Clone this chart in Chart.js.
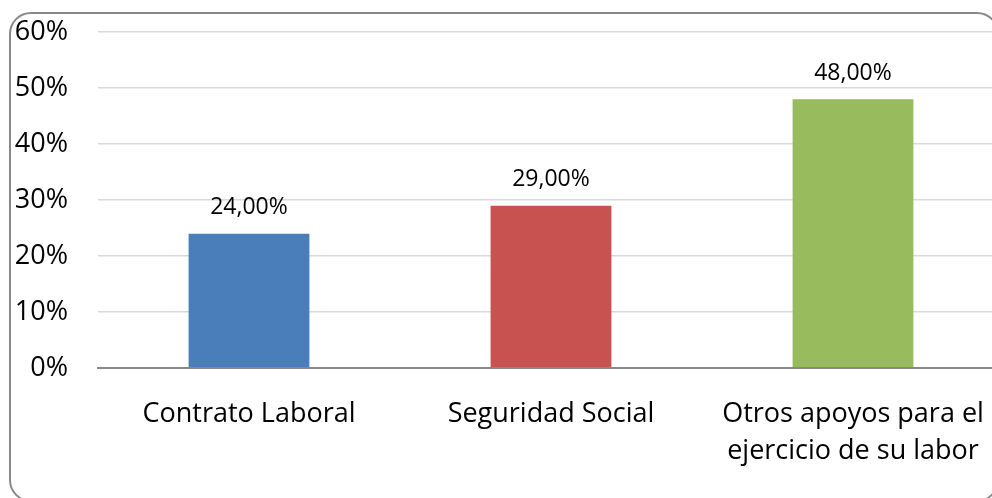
<!DOCTYPE html>
<html>
<head>
<meta charset="utf-8">
<script src="https://cdn.jsdelivr.net/npm/chart.js@4"></script>
<style>
  html, body { margin: 0; padding: 0; background: #fff; overflow: hidden; }
  #wrap { position: relative; width: 992px; height: 498px; overflow: hidden; }
  #frame {
    position: absolute; left: 9px; top: 12px; width: 986px; height: 486px;
    border: 2px solid #888; border-radius: 22px; pointer-events: none;
  }
  canvas { position: absolute; left: 0; top: -14px; }
</style>
</head>
<body>
<div id="wrap">
  <canvas id="chart" width="1004" height="512"></canvas>
  <div id="frame"></div>
</div>
<script>
const categories = ['Contrato Laboral', 'Seguridad Social', ['Otros apoyos para el', 'ejercicio de su labor']];
const values = [24, 29, 48];
const barColors = ['#4a7ebb', '#c8524f', '#98bb5e'];
const yTicks = [0, 10, 20, 30, 40, 50, 60];

const fontFamily = "'Open Sans', 'Noto Sans', sans-serif";

// Draw the value above each bar (no datalabels plugin available)
const valueLabels = {
    id: 'valueLabels',
    afterDatasetsDraw(chart) {
        const ctx = chart.ctx;
        const meta = chart.getDatasetMeta(0);
        ctx.save();
        ctx.font = '23px ' + fontFamily;
        ctx.fillStyle = '#000';
        ctx.textAlign = 'center';
        ctx.textBaseline = 'middle';
        meta.data.forEach((bar, i) => {
            const txt = values[i].toFixed(2).replace('.', ',') + '%';
            ctx.fillText(txt, bar.x, bar.y - 26);
        });
        ctx.restore();
    }
};

new Chart(document.getElementById('chart').getContext('2d'), {
    type: 'bar',
    data: {
        labels: categories,
        datasets: [{
            data: values,
            backgroundColor: barColors,
            borderWidth: 0,
            barPercentage: 1,
            categoryPercentage: 0.4
        }]
    },
    options: {
        responsive: false,
        animation: false,
        layout: { padding: { top: 18, right: 0, left: 0, bottom: 0 } },
        plugins: {
            legend: { display: false },
            tooltip: { enabled: false }
        },
        scales: {
            x: {
                grid: { display: false },
                border: { color: '#888', width: 2 },
                ticks: {
                    color: '#000',
                    font: { family: fontFamily, size: 27, lineHeight: 1.4 },
                    padding: 19,
                    maxRotation: 0,
                    autoSkip: false
                },
                afterFit(scale) { scale.height = 130; }
            },
            y: {
                min: 0,
                max: 60,
                afterBuildTicks(scale) { scale.ticks = yTicks.map(v => ({ value: v })); },
                grid: {
                    drawTicks: false,
                    color: c => c.tick && c.tick.value === 0 ? '#888' : '#d9d9d9',
                    lineWidth: c => c.tick && c.tick.value === 0 ? 2 : 1.5
                },
                border: { display: false },
                ticks: {
                    color: '#000',
                    font: { family: fontFamily, size: 27 },
                    padding: 30,
                    callback: v => v + '%'
                },
                afterFit(scale) { scale.width = 98; }
            }
        }
    },
    plugins: [valueLabels]
});
</script>
</body>
</html>
